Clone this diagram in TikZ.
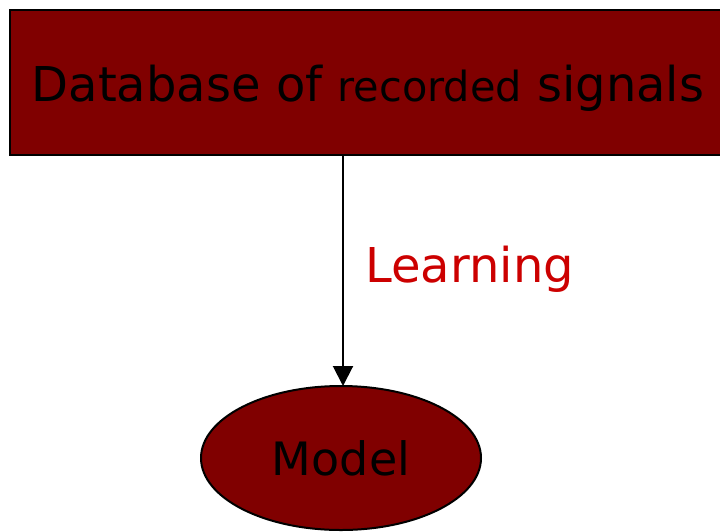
\documentclass[tikz,border=0pt]{standalone}
\usepackage{fontspec}
\setmainfont{DejaVu Sans}
\usetikzlibrary{arrows.meta,shapes.geometric}
\definecolor{boxred}{HTML}{800000}
\definecolor{labred}{HTML}{CC0000}
\tikzset{
  boxnode/.style={draw=black, line width=2pt, fill=boxred, minimum width=716pt, minimum height=145pt, inner sep=0pt},
  ellnode/.style={draw=black, line width=2pt, fill=boxred, ellipse, minimum width=280pt, minimum height=144pt, inner sep=0pt},
  arr/.style={line width=2pt, -{Triangle[length=20pt,width=20pt]}},
}
\begin{document}
\begin{tikzpicture}[x=1pt,y=1pt]
\useasboundingbox (0,0) rectangle (720,-531);
\node[boxnode] (db) at (368,-82.5) {\smash{\raisebox{-19pt}{\fontsize{48}{56}\selectfont Database of {\fontsize{41.5}{48}\selectfont recorded} signals}}};
\node[ellnode] (model) at (341,-458) {\fontsize{46}{54}\selectfont Model};
\coordinate (top) at (343,-155);
\coordinate (bot) at (343,-386);
\draw[arr] (top) -- (bot);
\node[text=labred, anchor=west] (lab) at (362,-269) {\fontsize{48}{56}\selectfont Learning};
\end{tikzpicture}
\end{document}
